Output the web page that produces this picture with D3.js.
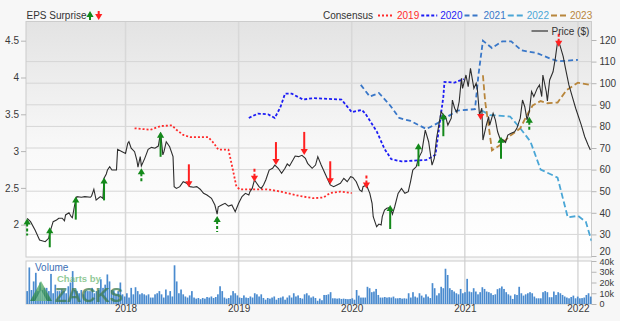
<!DOCTYPE html>
<html><head><meta charset="utf-8">
<script src="https://cdn.jsdelivr.net/npm/d3@7"></script>
<style>
html,body{margin:0;padding:0;background:#f7f7f7;}
svg{display:block;font-family:"Liberation Sans",Arial,sans-serif;}
</style></head><body>
<svg id="c" width="620" height="321"></svg>
<script>
// ---------------- DATA (decimal year, value) ----------------
const yearTicks = [2018, 2019, 2020, 2021, 2022];
const priceTicks = [20, 30, 40, 50, 60, 70, 80, 90, 100, 110, 120];
const epsTicks = [2, 2.5, 3, 3.5, 4, 4.5];
const volTicks = [0, 10, 20, 30, 40];

const priceData = [[2017.13,37.4],[2017.16,35.9],[2017.20,32.0],[2017.24,27.4],[2017.29,26.6],[2017.32,28.2],[2017.34,32.4],[2017.36,35.9],[2017.39,36.7],[2017.41,37.5],[2017.44,37.5],[2017.46,36.3],[2017.47,39.0],[2017.50,40.0],[2017.52,38.2],[2017.53,37.7],[2017.55,43.6],[2017.57,47.5],[2017.61,47.2],[2017.64,47.5],[2017.69,47.2],[2017.70,47.8],[2017.72,50.9],[2017.74,45.9],[2017.77,47.2],[2017.78,47.5],[2017.80,46.7],[2017.81,56.0],[2017.83,58.0],[2017.84,59.8],[2017.86,61.3],[2017.88,59.8],[2017.92,59.8],[2017.93,69.4],[2017.97,68.3],[2018.00,67.5],[2018.02,72.2],[2018.03,72.9],[2018.05,69.9],[2018.08,68.3],[2018.10,64.4],[2018.11,61.1],[2018.13,66.0],[2018.14,61.7],[2018.17,65.2],[2018.20,69.4],[2018.23,70.3],[2018.26,69.9],[2018.29,70.9],[2018.31,77.1],[2018.33,66.8],[2018.34,68.3],[2018.36,72.9],[2018.39,70.6],[2018.42,66.0],[2018.43,52.1],[2018.45,51.3],[2018.48,52.1],[2018.51,54.4],[2018.54,53.7],[2018.57,52.1],[2018.60,51.8],[2018.63,52.1],[2018.66,50.9],[2018.69,49.0],[2018.72,48.2],[2018.76,46.7],[2018.79,43.6],[2018.81,39.4],[2018.82,42.8],[2018.85,43.6],[2018.88,44.4],[2018.91,43.1],[2018.94,43.6],[2018.97,40.5],[2019.00,44.4],[2019.03,47.5],[2019.06,49.0],[2019.09,48.2],[2019.10,49.8],[2019.12,51.3],[2019.14,55.2],[2019.16,53.7],[2019.18,52.1],[2019.20,51.3],[2019.22,52.9],[2019.24,55.2],[2019.27,59.8],[2019.30,60.6],[2019.32,62.1],[2019.35,60.6],[2019.38,58.3],[2019.41,60.6],[2019.43,62.6],[2019.45,61.7],[2019.48,64.4],[2019.50,66.3],[2019.53,66.0],[2019.56,66.6],[2019.59,65.2],[2019.61,62.9],[2019.65,60.6],[2019.68,62.1],[2019.70,66.0],[2019.73,62.1],[2019.75,59.8],[2019.77,57.5],[2019.79,55.2],[2019.81,52.9],[2019.84,52.1],[2019.87,52.9],[2019.90,53.7],[2019.93,56.0],[2019.96,54.4],[2019.99,56.7],[2020.01,56.4],[2020.04,54.4],[2020.07,50.6],[2020.09,49.8],[2020.10,52.1],[2020.13,52.9],[2020.16,49.0],[2020.18,44.4],[2020.19,38.2],[2020.21,35.1],[2020.22,33.6],[2020.24,34.8],[2020.26,34.4],[2020.27,38.2],[2020.29,41.3],[2020.31,42.1],[2020.34,42.5],[2020.36,39.4],[2020.38,42.8],[2020.41,49.0],[2020.44,51.3],[2020.47,49.0],[2020.50,49.8],[2020.52,54.4],[2020.54,59.8],[2020.57,61.3],[2020.59,65.2],[2020.62,68.3],[2020.65,78.3],[2020.68,72.9],[2020.71,62.1],[2020.73,65.2],[2020.75,74.5],[2020.77,80.6],[2020.79,86.8],[2020.81,85.3],[2020.83,84.5],[2020.85,80.6],[2020.88,83.8],[2020.89,92.2],[2020.91,88.4],[2020.93,86.5],[2020.95,91.4],[2020.97,102.3],[2020.98,97.6],[2021.01,103.8],[2021.03,98.4],[2021.05,106.9],[2021.08,97.6],[2021.10,100.0],[2021.11,97.6],[2021.13,85.3],[2021.15,88.4],[2021.16,73.7],[2021.19,80.6],[2021.21,84.5],[2021.22,80.6],[2021.25,86.1],[2021.27,83.0],[2021.29,77.5],[2021.31,74.5],[2021.34,73.7],[2021.36,72.6],[2021.38,76.0],[2021.41,76.8],[2021.44,77.5],[2021.46,79.1],[2021.49,83.8],[2021.51,92.2],[2021.53,89.1],[2021.55,83.0],[2021.57,86.8],[2021.59,96.1],[2021.61,93.8],[2021.64,97.6],[2021.66,99.2],[2021.68,93.8],[2021.69,103.8],[2021.72,96.1],[2021.73,91.8],[2021.75,101.5],[2021.78,105.3],[2021.80,111.5],[2021.82,119.2],[2021.84,117.7],[2021.87,112.3],[2021.89,106.9],[2021.92,99.2],[2021.95,93.8],[2021.98,88.4],[2022.00,85.3],[2022.03,80.6],[2022.06,75.2],[2022.09,71.4],[2022.11,69.1]];

const cons2019 = [[2018.08,3.31],[2018.22,3.29],[2018.31,3.34],[2018.41,3.35],[2018.45,3.29],[2018.51,3.22],[2018.57,3.19],[2018.73,3.19],[2018.78,3.11],[2018.82,3.02],[2018.91,3.02],[2018.95,2.74],[2018.98,2.52],[2019.01,2.48],[2019.25,2.48],[2019.34,2.46],[2019.54,2.39],[2019.66,2.36],[2019.75,2.37],[2019.81,2.43],[2019.90,2.45],[2020.00,2.43]];
const cons2020 = [[2019.09,3.45],[2019.17,3.51],[2019.26,3.50],[2019.32,3.45],[2019.37,3.60],[2019.41,3.78],[2019.47,3.78],[2019.57,3.70],[2019.66,3.72],[2019.91,3.70],[2020.00,3.53],[2020.09,3.56],[2020.12,3.51],[2020.22,3.27],[2020.29,3.03],[2020.35,2.89],[2020.44,2.86],[2020.66,2.88],[2020.74,2.95],[2020.78,3.40],[2020.81,3.74],[2020.82,3.94],[2020.91,3.93],[2020.99,3.98]];
const cons2021 = [[2020.08,3.90],[2020.16,3.74],[2020.24,3.79],[2020.34,3.62],[2020.42,3.45],[2020.52,3.41],[2020.66,3.30],[2020.76,3.38],[2020.93,3.55],[2021.09,3.57],[2021.12,4.03],[2021.16,4.50],[2021.24,4.40],[2021.33,4.49],[2021.41,4.49],[2021.50,4.37],[2021.64,4.33],[2021.75,4.26],[2021.83,4.22],[2022.00,4.24]];
const cons2022 = [[2021.15,3.55],[2021.22,3.49],[2021.40,3.47],[2021.49,3.31],[2021.58,3.13],[2021.67,2.75],[2021.82,2.64],[2021.91,2.10],[2022.00,2.12],[2022.07,2.04],[2022.12,1.78]];
const cons2023 = [[2021.16,4.03],[2021.18,3.67],[2021.21,3.35],[2021.24,3.01],[2021.31,3.08],[2021.41,3.22],[2021.49,3.31],[2021.55,3.49],[2021.60,3.62],[2021.67,3.68],[2021.73,3.65],[2021.82,3.66],[2021.90,3.83],[2022.00,3.93],[2022.11,3.90]];

const consNames = ["2019", "2020", "2021", "2022", "2023"];
const consSeries = [cons2019, cons2020, cons2021, cons2022, cons2023];

// EPS surprise arrows: date, price at tip, surprise size, direction, estimate-style
const surpriseT = [2017.13,2017.33,2017.56,2017.81,2018.14,2018.31,2018.56,2018.81,2019.14,2019.33,2019.58,2019.81,2020.13,2020.34,2020.59,2020.81,2021.14,2021.32,2021.57,2021.83];
const surpriseP = [37.4,33.3,47.5,56.4,60.6,77.5,51.8,38.5,54.4,62.1,66.8,53.2,51.3,43.6,72.2,86.1,83.0,75.2,84.5,116.9];
const surpriseSize = [6.8,8.0,9.2,9.2,5.6,10.0,9.2,6.4,5.6,9.2,9.2,9.2,5.2,9.6,9.2,9.2,2.0,8.8,5.2,6.0];
const surpriseDir = ["up","up","up","up","up","up","down","up","down","down","down","down","down","up","up","up","down","up","up","down"];
const surpriseDashed = [1,0,0,0,1,0,0,1,1,0,0,0,1,0,0,0,0,0,1,1];

// weekly volume (thousands), starting at volStart
const volStart = 2017.12;
const volume = [12,34,13,21,29,12,20,13,15,15,12,28,10,18,12,12,13.5,12,10,16.5,20,30.6,13,12,10,13,9,12,12,12,15,10,12,13,23,15,18,27.5,21,13,12,9,12,20,9,7,10,6,15,9,15.6,12,9,10,9,8,9,6,6,9,10,12,9,6,13.5,8,12,7,36,21,10,13.5,9,7,6,8,12,6,5,5.6,4.5,5.6,5,6.5,6,7,5.6,6.5,9,16.5,12,6,5,5.6,8,12,10,8,6,5.6,8,6,5.6,7,6,10,9,7,9,5.6,4,5.6,5,6,7,4,5.6,6,7,4,6,8,6,10,7,8,5.6,5,9,10,8,6,7,5.6,3,5,3.5,8.4,8.4,9,11,5.3,5.3,5,5.3,4.7,5,4.7,4.5,4.7,5.3,4,13,7.8,6,6,6,16,14.7,11,11.6,14,8.4,6,6,6.5,6,6.3,6,6.9,5.3,5.3,5.6,5,5.3,5,10,6,11,6.9,6,10,7.8,6,9,6.9,5.5,19.4,14.7,8,10,16,14.7,32.8,27,14.7,13,11.6,10,9,14,10,11,23.4,11.6,11,14.7,11.6,9,11,15.6,14,11.6,11,10,8.4,9,13.8,14.7,16.3,14,11,9,7.8,4.7,9,8.4,16,10,7.8,9,10,11,10,6.9,5.3,5.3,5.3,11,12,11,6.3,6.3,11.6,8.4,11,10,8.4,7,6,5.3,6.5,7.8,5.3,6.9,5.3,5.5,6,8.4,10,6.9];

// ---------------- STYLE ----------------
const consColors = ["#ff2b2b", "#1c1cf5", "#3977c8", "#4aa6d6", "#b8863c"];
const consDash = ["2,2", "3,2", "5,3", "6,3", "6,3"];
const green = "#13891a", red = "#ff2020";

const svg = d3.select("#c");
const plot = {left: 26, right: 591.5, top: 21.5, bottom: 257};
const vol = {top: 261, bottom: 304};

const x = d3.scaleLinear().domain([2017.12, 2022.12]).range([plot.left, plot.right]);
const yP = d3.scaleLinear().domain([20, 120]).range([256, 40]);
const yE = d3.scaleLinear().domain([2, 4.5]).range([224.7, 40.7]);
const yV = d3.scaleLinear().domain([0, 40]).range([vol.bottom, vol.top]);
const sLen = d3.scaleLinear().domain([0, 10]).range([0, 25]);

const defs = svg.append("defs");
const grad = defs.append("linearGradient").attr("id", "bg").attr("x1", 0).attr("y1", 0).attr("x2", 0).attr("y2", 1);
grad.append("stop").attr("offset", "0%").attr("stop-color", "#e3e3e3");
grad.append("stop").attr("offset", "55%").attr("stop-color", "#f9f9f9");
grad.append("stop").attr("offset", "100%").attr("stop-color", "#ffffff");
defs.append("clipPath").attr("id", "clipP").append("rect")
  .attr("x", plot.left).attr("y", plot.top).attr("width", plot.right - plot.left).attr("height", plot.bottom - plot.top);
const wg = defs.append("linearGradient").attr("id", "wm").attr("x1", 0).attr("y1", 0).attr("x2", 0).attr("y2", 1);
wg.append("stop").attr("offset", "0%").attr("stop-color", "#5fb86a");
wg.append("stop").attr("offset", "100%").attr("stop-color", "#1f7a3a");

// panels
svg.append("rect").attr("x", plot.left).attr("y", plot.top).attr("width", plot.right - plot.left)
  .attr("height", plot.bottom - plot.top).attr("fill", "url(#bg)");
svg.append("rect").attr("x", plot.left).attr("y", vol.top).attr("width", plot.right - plot.left)
  .attr("height", vol.bottom - vol.top).attr("fill", "#ffffff");

// horizontal gridlines (price)
svg.append("g").selectAll("line").data(priceTicks.slice(1, -1)).join("line")
  .attr("x1", plot.left).attr("x2", plot.right).attr("y1", d => yP(d)).attr("y2", d => yP(d))
  .attr("stroke", "#d6d6d6").attr("stroke-width", 1);
// vertical gridlines
svg.append("g").selectAll("line").data(yearTicks).join("line")
  .attr("x1", d => x(d)).attr("x2", d => x(d)).attr("y1", plot.top).attr("y2", vol.bottom)
  .attr("stroke", "#d8d8d8").attr("stroke-width", 1.5);

// borders
svg.append("rect").attr("x", plot.left).attr("y", plot.top).attr("width", plot.right - plot.left)
  .attr("height", plot.bottom - plot.top).attr("fill", "none").attr("stroke", "#cccccc");
svg.append("rect").attr("x", plot.left).attr("y", vol.top).attr("width", plot.right - plot.left)
  .attr("height", vol.bottom - vol.top).attr("fill", "none").attr("stroke", "#cccccc");

// volume bars
svg.append("g").selectAll("rect").data(volume).join("rect")
  .attr("x", (d, i) => x(volStart + i * 7 / 365.25) + 0.3)
  .attr("width", 1.7)
  .attr("y", d => yV(d))
  .attr("height", d => yV(0) - yV(d))
  .attr("fill", "#4a8bcf");

// watermark
const wm = svg.append("g").attr("opacity", 0.75);
wm.append("polygon").attr("points", "30,301 41,281 52,301").attr("fill", "url(#wm)");
wm.append("polygon").attr("points", "35,301 41,290 47,301").attr("fill", "#8fd39a").attr("opacity", 0.7);
wm.append("text").attr("x", 57).attr("y", 281.5).attr("font-size", 9.5).attr("font-weight", "bold")
  .attr("fill", "#6db874").text("Charts by");
wm.append("text").attr("x", 55).attr("y", 302).attr("font-size", 20).attr("font-weight", "bold")
  .attr("fill", "#3a7a50").attr("letter-spacing", -0.2).text("ZACKS");
svg.append("text").attr("x", 35).attr("y", 267).attr("dy", "0.35em").attr("font-size", 10)
  .attr("fill", "#3c6fb6").text("Volume");

// consensus lines
const lineE = d3.line().x(d => x(d[0])).y(d => yE(d[1]));
const cg = svg.append("g").attr("clip-path", "url(#clipP)");
consSeries.forEach((s, i) => {
  cg.append("path").datum(s).attr("d", lineE).attr("fill", "none")
    .attr("stroke", consColors[i]).attr("stroke-width", 1.8).attr("stroke-dasharray", consDash[i]);
});

// price line
const lineP = d3.line().x(d => x(d[0])).y(d => yP(d[1]));
cg.append("path").datum(priceData).attr("d", lineP).attr("fill", "none")
  .attr("stroke", "#2d2d2d").attr("stroke-width", 1.1);

// surprise arrows
function arrow(g, tx, ty, len, up, color, dashed) {
  const dir = up ? 1 : -1;
  g.append("line").attr("x1", tx).attr("x2", tx).attr("y1", ty + dir * 5).attr("y2", ty + dir * len)
    .attr("stroke", color).attr("stroke-width", 2).attr("stroke-dasharray", dashed ? "3,2" : null);
  g.append("path").attr("d", `M${tx},${ty} L${tx - 3.6},${ty + dir * 6} L${tx + 3.6},${ty + dir * 6} Z`)
    .attr("fill", color);
}
const ag = svg.append("g");
surpriseT.forEach((t, i) => {
  const up = surpriseDir[i] === "up";
  arrow(ag, x(t), yP(surpriseP[i]), Math.max(sLen(surpriseSize[i]), 6), up, up ? green : red, surpriseDashed[i]);
});

// axes
const axL = svg.append("g").attr("transform", `translate(${plot.left},0)`)
  .call(d3.axisLeft(yE).tickValues(epsTicks).tickSize(5).tickPadding(2).tickFormat(d => String(d)));
const axR = svg.append("g").attr("transform", `translate(${plot.right},0)`)
  .call(d3.axisRight(yP).tickValues(priceTicks).tickSize(5).tickPadding(3));
const axV = svg.append("g").attr("transform", `translate(${plot.right},0)`)
  .call(d3.axisRight(yV).tickValues(volTicks).tickSize(5).tickPadding(3).tickFormat(d => d ? d + "k" : "0"));
const axX = svg.append("g").attr("transform", `translate(0,${vol.bottom})`)
  .call(d3.axisBottom(x).tickValues(yearTicks).tickSize(0).tickPadding(1).tickFormat(d3.format("d")));
[axL, axR, axX].forEach(a => {
  a.selectAll("text").attr("font-size", 10);
});
axV.selectAll("text").attr("font-size", 9);
[axL, axR, axV, axX].forEach(a => {
  a.select(".domain").remove();
  a.selectAll(".tick line").attr("stroke", "#b5b5b5");
  a.selectAll("text").attr("fill", "#3a3a3a").attr("font-family", '"Liberation Sans",Arial,sans-serif');
});
// keep the two crowded labels at the panel junction apart
axR.selectAll(".tick text").filter(d => d === 20).attr("dy", "-0.2em");
axV.selectAll(".tick text").filter(d => d === 40).attr("dy", "0.4em");

// top legend
svg.append("text").attr("x", 26.5).attr("y", 15.5).attr("dy", "0.35em").attr("font-size", 10)
  .attr("fill", "#333").text("EPS Surprise");
const lg = svg.append("g");
arrow(lg, 90, 11, 9, true, green, false);
arrow(lg, 98.7, 20, 9, false, red, false);

svg.append("text").attr("x", 323).attr("y", 15.5).attr("dy", "0.35em").attr("font-size", 10)
  .attr("fill", "#333").text("Consensus");
let lx = 378;
consNames.forEach((n, i) => {
  svg.append("line").attr("x1", lx).attr("x2", lx + 16).attr("y1", 15.5).attr("y2", 15.5)
    .attr("stroke", consColors[i]).attr("stroke-width", 1.8).attr("stroke-dasharray", consDash[i]);
  const t = svg.append("text").attr("x", lx + 19).attr("y", 15.5).attr("dy", "0.35em")
    .attr("font-size", 10).attr("fill", consColors[i]).text(n);
  lx = lx + 19 + t.node().getComputedTextLength() + 2;
});

// price legend
svg.append("line").attr("x1", 531.5).attr("x2", 548).attr("y1", 31).attr("y2", 31)
  .attr("stroke", "#555").attr("stroke-width", 1.5);
svg.append("text").attr("x", 551.5).attr("y", 31).attr("dy", "0.35em").attr("font-size", 10)
  .attr("fill", "#333").text("Price ($)");
</script>
</body></html>
